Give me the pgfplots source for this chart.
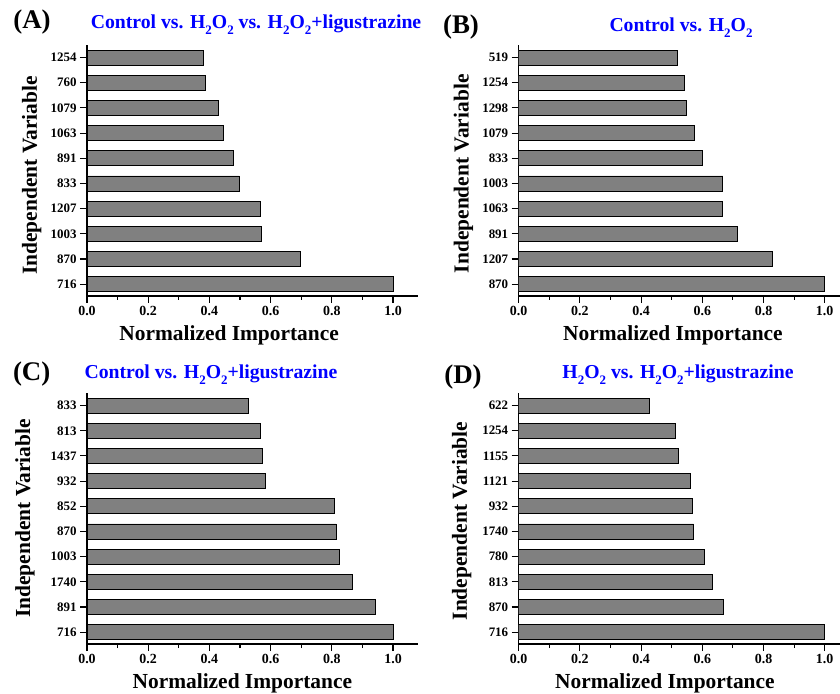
\documentclass[border=0pt]{standalone}
\usepackage{pgfplots}
\pgfplotsset{compat=1.18}
\usepackage{fontspec}
\setmainfont{Liberation Serif}
\definecolor{barfill}{RGB}{128,128,128}
\definecolor{titleblue}{RGB}{0,0,255}
\newcommand{\sub}[1]{\raisebox{-5.5bp}{\fontsize{13}{13}\selectfont #1}}
\pgfplotsset{
  panel/.style={
    scale only axis, xbar, bar width=15bp,
    height=251bp,
    xmin=0, ymin=-0.47, ymax=9.5,
    axis x line*=bottom, axis y line*=left,
    axis line style={-, line width=1.1bp, black},
    tick align=outside, major tick length=7bp, minor tick length=4bp,
    every tick/.style={black, line width=1.1bp},
    xtick={0,0.2,0.4,0.6,0.8,1.0},
    minor xtick={0.1,0.3,0.5,0.7,0.9},
    ytick={0,1,2,3,4,5,6,7,8,9},
    /pgf/number format/assume math mode=true,
    x tick label style={font=\fontsize{14}{16}\selectfont\bfseries,
      /pgf/number format/.cd, fixed, fixed zerofill, precision=1},
    y tick label style={font=\fontsize{13}{15}\selectfont\bfseries},
    xlabel={Normalized Importance}, ylabel={Independent Variable},
    label style={font=\fontsize{21.5}{25}\selectfont\bfseries},
    cycle list={{fill=barfill, draw=black, line width=0.9bp}},
  },
  wide/.style={width=330.5bp, xmax=1.08},
  narrow/.style={width=321.3bp, xmax=1.05},
}
\begin{document}
\begin{tikzpicture}
\path[use as bounding box] (0,0) rectangle (840bp,694bp);

% (A)
\begin{axis}[panel, wide, at={(87bp,398bp)}, anchor=south west,
  yticklabels={716,870,1003,1207,833,891,1063,1079,760,1254},
  xlabel style={at={(axis description cs:0.43,-0.155)}, anchor=center},
  ylabel style={at={(axis description cs:-0.167,0.48)}, anchor=center}]
\addplot[fill=barfill, draw=black, line width=0.9bp] coordinates {(1.0,0) (0.699,1) (0.569,2) (0.566,3) (0.498,4) (0.480,5) (0.446,6) (0.429,7) (0.388,8) (0.379,9)};
\end{axis}

% (B)
\begin{axis}[panel, narrow, at={(518.7bp,398bp)}, anchor=south west,
  yticklabels={870,1207,891,1063,1003,833,1079,1298,1254,519},
  xlabel style={at={(axis description cs:0.48,-0.155)}, anchor=center},
  ylabel style={at={(axis description cs:-0.172,0.487)}, anchor=center}]
\addplot[fill=barfill, draw=black, line width=0.9bp] coordinates {(1.0,0) (0.830,1) (0.715,2) (0.667,3) (0.667,4) (0.601,5) (0.574,6) (0.547,7) (0.542,8) (0.519,9)};
\end{axis}

% (C)
\begin{axis}[panel, wide, at={(87bp,50bp)}, anchor=south west,
  yticklabels={716,891,1740,1003,870,852,932,1437,813,833},
  xlabel style={at={(axis description cs:0.47,-0.155)}, anchor=center},
  ylabel style={at={(axis description cs:-0.188,0.5)}, anchor=center}]
\addplot[fill=barfill, draw=black, line width=0.9bp] coordinates {(1.0,0) (0.944,1) (0.869,2) (0.825,3) (0.814,4) (0.809,5) (0.582,6) (0.573,7) (0.568,8) (0.529,9)};
\end{axis}

% (D)
\begin{axis}[panel, narrow, at={(518.7bp,50bp)}, anchor=south west,
  yticklabels={716,870,813,780,1740,932,1121,1155,1254,622},
  xlabel style={at={(axis description cs:0.455,-0.155)}, anchor=center},
  ylabel style={at={(axis description cs:-0.177,0.49)}, anchor=center}]
\addplot[fill=barfill, draw=black, line width=0.9bp] coordinates {(1.0,0) (0.670,1) (0.634,2) (0.607,3) (0.572,4) (0.569,5) (0.560,6) (0.521,7) (0.511,8) (0.426,9)};
\end{axis}

% panel letters
\begin{scope}[every node/.style={font=\fontsize{27}{30}\selectfont\bfseries, anchor=center, inner sep=0pt}]
\node at (32bp,672bp) {(A)};
\node at (461bp,666.5bp) {(B)};
\node at (31.7bp,320bp) {(C)};
\node at (463bp,317.3bp) {(D)};
\end{scope}

% titles
\begin{scope}[every node/.style={font=\fontsize{19.8}{22}\selectfont\bfseries, text=titleblue, anchor=base, inner sep=0pt}]
\node at (256bp,665bp) {Control vs. H\sub{2}O\sub{2} vs. H\sub{2}O\sub{2}+ligustrazine};
\node at (681bp,662bp) {Control vs. H\sub{2}O\sub{2}};
\node at (211bp,315bp) {Control vs. H\sub{2}O\sub{2}+ligustrazine};
\node at (678bp,315bp) {H\sub{2}O\sub{2} vs. H\sub{2}O\sub{2}+ligustrazine};
\end{scope}
\end{tikzpicture}
\end{document}
